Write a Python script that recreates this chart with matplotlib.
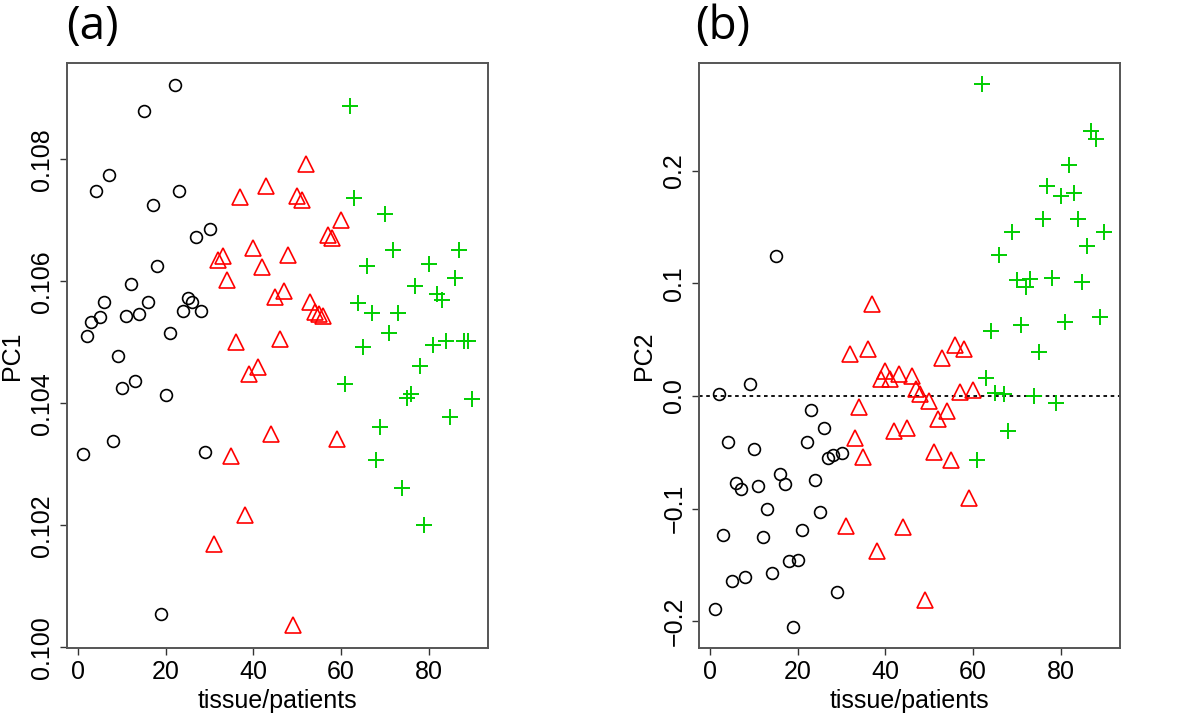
import numpy as np
import matplotlib
matplotlib.use("Agg")
import matplotlib.pyplot as plt

plt.rcParams['font.family'] = ['Liberation Sans', 'DejaVu Sans']

# sample index on the x axis
idx = np.arange(1, 91)

# panel (a): PC1 loadings, three groups of 30 tissue/patients
pc1_normal = [0.10317, 0.10510, 0.10534, 0.10749, 0.10541, 0.10567, 0.10775, 0.10338, 0.10478, 0.10426,
              0.10543, 0.10595, 0.10437, 0.10546, 0.10880, 0.10567, 0.10726, 0.10625, 0.10055, 0.10413,
              0.10516, 0.10922, 0.10748, 0.10551, 0.10573, 0.10566, 0.10672, 0.10552, 0.10320, 0.10686]
pc1_group2 = [0.10169, 0.10635, 0.10641, 0.10603, 0.10314, 0.10500, 0.10739, 0.10217, 0.10448, 0.10654,
              0.10460, 0.10624, 0.10757, 0.10350, 0.10574, 0.10506, 0.10584, 0.10643, 0.10036, 0.10740,
              0.10733, 0.10793, 0.10566, 0.10550, 0.10547, 0.10544, 0.10676, 0.10671, 0.10341, 0.10700]
pc1_group3 = [0.10432, 0.10888, 0.10737, 0.10564, 0.10492, 0.10626, 0.10549, 0.10307, 0.10361, 0.10710,
              0.10516, 0.10652, 0.10549, 0.10262, 0.10409, 0.10416, 0.10593, 0.10461, 0.10200, 0.10629,
              0.10495, 0.10580, 0.10570, 0.10503, 0.10378, 0.10606, 0.10651, 0.10503, 0.10503, 0.10408]

# panel (b): PC2 loadings
pc2_normal = [-0.1888, 0.0015, -0.1233, -0.0404, -0.1643, -0.0773, -0.0826, -0.1608, 0.0109, -0.0472,
              -0.0796, -0.1248, -0.1003, -0.1569, 0.1244, -0.0693, -0.0782, -0.1460, -0.2050, -0.1451,
              -0.1186, -0.0404, -0.0127, -0.0746, -0.1027, -0.0280, -0.0546, -0.0525, -0.1735, -0.0510]
pc2_group2 = [-0.1150, 0.0369, -0.0369, -0.0097, -0.0540, 0.0420, 0.0816, -0.1378, 0.0147, 0.0221,
              0.0147, -0.0310, 0.0192, -0.1165, -0.0280, 0.0177, 0.0059, 0.0015, -0.1814, -0.0044,
              -0.0496, -0.0206, 0.0339, -0.0133, -0.0569, 0.0450, 0.0035, 0.0420, -0.0909, 0.0050]
pc2_group3 = [-0.0569, 0.2771, 0.0162, 0.0574, 0.0030, 0.1253, 0.0020, -0.0310, 0.1455, 0.1030,
              0.0628, 0.0970, 0.1036, 0.0000, 0.0390, 0.1571, 0.1863, 0.1051, -0.0059, 0.1774,
              0.0658, 0.2051, 0.1804, 0.1571, 0.1015, 0.1333, 0.2348, 0.2280, 0.0702, 0.1455]

x_ticks = [0, 20, 40, 60, 80]
pc1_ticks = [0.100, 0.102, 0.104, 0.106, 0.108]
pc1_labels = ['0.100', '0.102', '0.104', '0.106', '0.108']
pc2_ticks = [-0.2, -0.1, 0.0, 0.1, 0.2]
pc2_labels = ['\u22120.2', '\u22120.1', '0.0', '0.1', '0.2']

fig = plt.figure(figsize=(12, 7.22), dpi=100)
ax1 = fig.add_axes([0.0558, 0.1025, 0.3508, 0.8102])
ax2 = fig.add_axes([0.5825, 0.1025, 0.3508, 0.8102])

red = '#FF0000'
green = '#00CD00'


def draw(ax, a, b, c):
    ax.plot(idx[:30], a, 'o', mfc='none', mec='black', ms=8.5, mew=1.2)
    ax.plot(idx[30:60], b, '^', mfc='none', mec=red, ms=11, mew=1.2)
    ax.plot(idx[60:], c, '+', color=green, ms=12, mew=1.4)
    ax.set_xlim(-2.56, 93.56)
    ax.set_xticks(x_ticks)
    ax.set_xlabel('tissue/patients', fontsize=18, labelpad=3)
    for s in ax.spines.values():
        s.set_color('#555555')
        s.set_linewidth(1.4)
    ax.tick_params(length=5, width=1.0, color='#333333', labelsize=18, pad=4)


draw(ax1, pc1_normal, pc1_group2, pc1_group3)
ax1.set_ylim(0.09999, 0.10958)
ax1.set_yticks(pc1_ticks)
ax1.set_yticklabels(pc1_labels, rotation=90, va='center')
ax1.set_ylabel('PC1', fontsize=18, labelpad=5)

draw(ax2, pc2_normal, pc2_group2, pc2_group3)
ax2.set_ylim(-0.2236, 0.2955)
ax2.set_yticks(pc2_ticks)
ax2.set_yticklabels(pc2_labels, rotation=90, va='center')
ax2.set_ylabel('PC2', fontsize=18, labelpad=5)
ax2.axhline(0, color='black', lw=1.3, ls=(0, (2, 2)), zorder=0)

fig.text(0.055, 0.962, '(a)', fontsize=33, family='Open Sans', va='center')
fig.text(0.579, 0.962, '(b)', fontsize=33, family='Open Sans', va='center')

fig.savefig('out.png', dpi=100)
